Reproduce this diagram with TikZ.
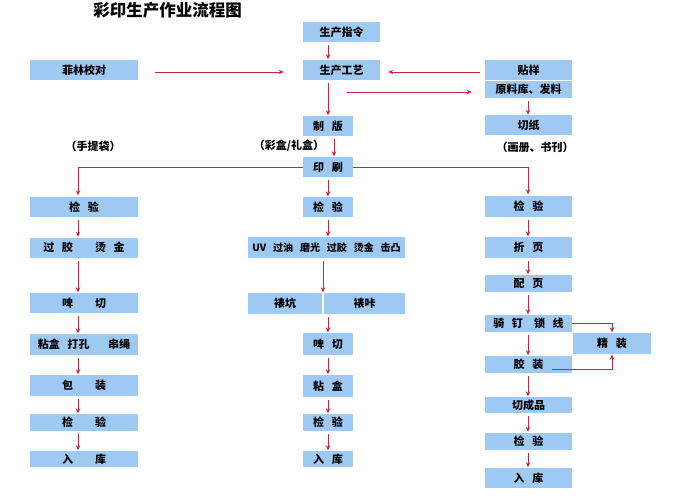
\documentclass[tikz,border=0pt]{standalone}
\usepackage{fontspec}
\setmainfont{Noto Sans CJK SC}[WordSpace=3]
\usepackage{xcolor}
\definecolor{cBox}{HTML}{9DC9F2}
\definecolor{cArrow}{HTML}{C02840}
\usepackage{tikz}
\usetikzlibrary{arrows.meta}
\tikzset{
  node-box/.style={fill=cBox,inner sep=0pt,minimum height=20pt,
    minimum width=87pt,align=center,font=\bfseries\fontsize{11}{12}\selectfont},
  node-left/.style={node-box,minimum width=108pt},
  node-mid/.style={node-box,minimum width=50pt},
  node-note/.style={inner sep=0pt,font=\bfseries\fontsize{11}{12}\selectfont},
  node-title/.style={inner sep=0pt,font=\bfseries\fontsize{16.5}{18}\selectfont},
  arrow/.style={-{Stealth[length=5pt,width=4.5pt]},line width=0.9pt,draw=cArrow,
    shorten <=3pt,shorten >=0.5pt},
}

\begin{document}
\begin{tikzpicture}[x=1pt,y=-1pt]
  \useasboundingbox (0,0) rectangle (675,500);
  % 列与横线位置
  \coordinate (xl) at (78,0);
  \coordinate (xm) at (328,0);
  \coordinate (xc) at (334,0);
  \coordinate (xs) at (323,0);
  \coordinate (xr) at (528,0);
  \coordinate (row) at (0,72);
  \coordinate (feed) at (347,92);
  \coordinate (perf-out) at (552,369);

  \node[node-title] (title) at (167.5,10.5) {彩印生产作业流程图};

  % 上部
  \node[node-box,minimum width=77pt] (cmd) at (341.5,32) {生产指令};
  \node[node-left] (film) at (84,70) {菲林校对};
  \node[node-box,minimum width=77pt] (craft) at (341.5,70) {生产工艺};
  \node[node-box] (sample) at (528.5,70) {贴样};
  \node[node-box,minimum height=17pt] (stock) at (528.5,89.5) {原料库、发料};
  \node[node-box] (paper) at (528.5,125.5) {切纸};
  \node[node-mid] (plate) at (328,126) {制 版};
  \node[node-note] (bag) at (93,146) {（手提袋）};
  \node[node-note] (gift) at (289,146) {（彩盒/礼盒）};
  \node[node-note] (book) at (535,147) {（画册、书刊）};
  \node[node-mid] (print) at (328,167) {印 刷};

  % 手提袋
  \node[node-left] (lchk1) at (84,207) {检 验};
  \node[node-left] (lfilm) at (84,247.5) {过 胶\qquad 烫 金};
  \node[node-left] (ldie) at (84,303) {啤\qquad 切};
  \node[node-left,minimum height=21pt] (lglue) at (84,344.5) {粘盒 打孔 \quad 串绳};
  \node[node-left,minimum height=21pt] (lpack) at (84,385.5) {包\qquad 装};
  \node[node-left,minimum height=17pt] (lchk2) at (84,422.5) {检\qquad 验};
  \node[node-left,minimum height=16pt] (lstore) at (84,459) {入\qquad 库};

  % 彩盒/礼盒
  \node[node-mid] (mchk1) at (328,207) {检 验};
  \node[node-box,minimum width=157pt,minimum height=21pt,
    font=\bfseries\fontsize{10}{12}\selectfont] (mfin) at (326.5,247.5) {UV 过油 磨光 过胶 烫金 击凸};
  \node[node-box,minimum width=74pt,minimum height=21pt] (mmnt1) at (285,303.5) {裱坑};
  \node[node-box,minimum width=81pt,minimum height=21pt] (mmnt2) at (364.5,303.5) {裱咔};
  \node[node-mid,minimum height=22pt] (mdie) at (328,344) {啤 切};
  \node[node-mid,minimum height=22pt] (mglue) at (328,386) {粘 盒};
  \node[node-mid,minimum height=17pt] (mchk2) at (328,422.5) {检 验};
  \node[node-mid,minimum height=16pt] (mstore) at (328,459) {入 库};

  % 画册、书刊
  \node[node-box,minimum height=21pt] (rchk1) at (528.5,206.5) {检 验};
  \node[node-box,minimum height=21pt] (rfold) at (528.5,247.5) {折 页};
  \node[node-box,minimum height=17pt] (rcoll) at (528.5,283.5) {配 页};
  \node[node-box,minimum height=17pt] (rbind) at (528.5,323.5) {骑 钉\quad 锁 线};
  \node[node-box,minimum width=78pt,minimum height=21pt] (rhard) at (612,343.5) {精 装};
  \node[node-box,minimum height=17pt] (rperf) at (528.5,364.5) {胶 装};
  \node[node-box,minimum height=16pt] (rtrim) at (528.5,405) {切成品};
  \node[node-box,minimum height=17pt] (rchk2) at (528.5,441) {检 验};
  \node[node-box,minimum height=20pt] (rstore) at (528.5,478) {入 库};

  % 上部连线
  \draw[arrow] (cmd.south -| xm) -- (craft.north -| xm);
  \draw[arrow,shorten <=17pt,shorten >=19pt] (film.east |- row) -- (craft.west |- row);
  \draw[arrow,shorten <=5pt,shorten >=8pt] (sample.west |- row) -- (craft.east |- row);
  \draw[arrow,shorten <=0pt,shorten >=13pt] (feed) -- (feed -| stock.west);
  \draw[arrow] (stock.south -| xr) -- (paper.north -| xr);
  \draw[arrow] (craft.south -| xm) -- (plate.north -| xm);
  \draw[arrow] (plate.south -| xc) -- (print.north -| xc);
  \draw[arrow,shorten <=0pt,shorten >=1.5pt] (print.west) -| (lchk1.north -| xl);
  \draw[arrow,shorten <=0pt,shorten >=1.5pt] (print.east) -| (rchk1.north -| xr);
  \draw[arrow] (print.south -| xm) -- (mchk1.north -| xm);

  % 左列
  \draw[arrow] (lchk1.south -| xl) -- (lfilm.north -| xl);
  \draw[arrow] (lfilm.south -| xl) -- (ldie.north -| xl);
  \draw[arrow] (ldie.south -| xl) -- (lglue.north -| xl);
  \draw[arrow] (lglue.south -| xl) -- (lpack.north -| xl);
  \draw[arrow] (lpack.south -| xl) -- (lchk2.north -| xl);
  \draw[arrow] (lchk2.south -| xl) -- (lstore.north -| xl);

  % 中列
  \draw[arrow] (mchk1.south -| xm) -- (mfin.north -| xm);
  \draw[arrow] (mfin.south -| xs) -- (mmnt1.north -| xs);
  \draw[arrow] (mmnt1.south -| xm) -- (mdie.north -| xm);
  \draw[arrow] (mdie.south -| xm) -- (mglue.north -| xm);
  \draw[arrow] (mglue.south -| xm) -- (mchk2.north -| xm);
  \draw[arrow] (mchk2.south -| xm) -- (mstore.north -| xm);

  % 右列
  \draw[arrow] (rchk1.south -| xr) -- (rfold.north -| xr);
  \draw[arrow] (rfold.south -| xr) -- (rcoll.north -| xr);
  \draw[arrow] (rcoll.south -| xr) -- (rbind.north -| xr);
  \draw[arrow] (rbind.south -| xr) -- (rperf.north -| xr);
  \draw[arrow] (rperf.south -| xr) -- (rtrim.north -| xr);
  \draw[arrow] (rtrim.south -| xr) -- (rchk2.north -| xr);
  \draw[arrow] (rchk2.south -| xr) -- (rstore.north -| xr);
  \draw[arrow,shorten <=0pt] (rbind.east) -| (rhard.north);
  \draw[arrow,shorten <=0pt] (perf-out) -| (rhard.south);
\end{tikzpicture}
\end{document}
